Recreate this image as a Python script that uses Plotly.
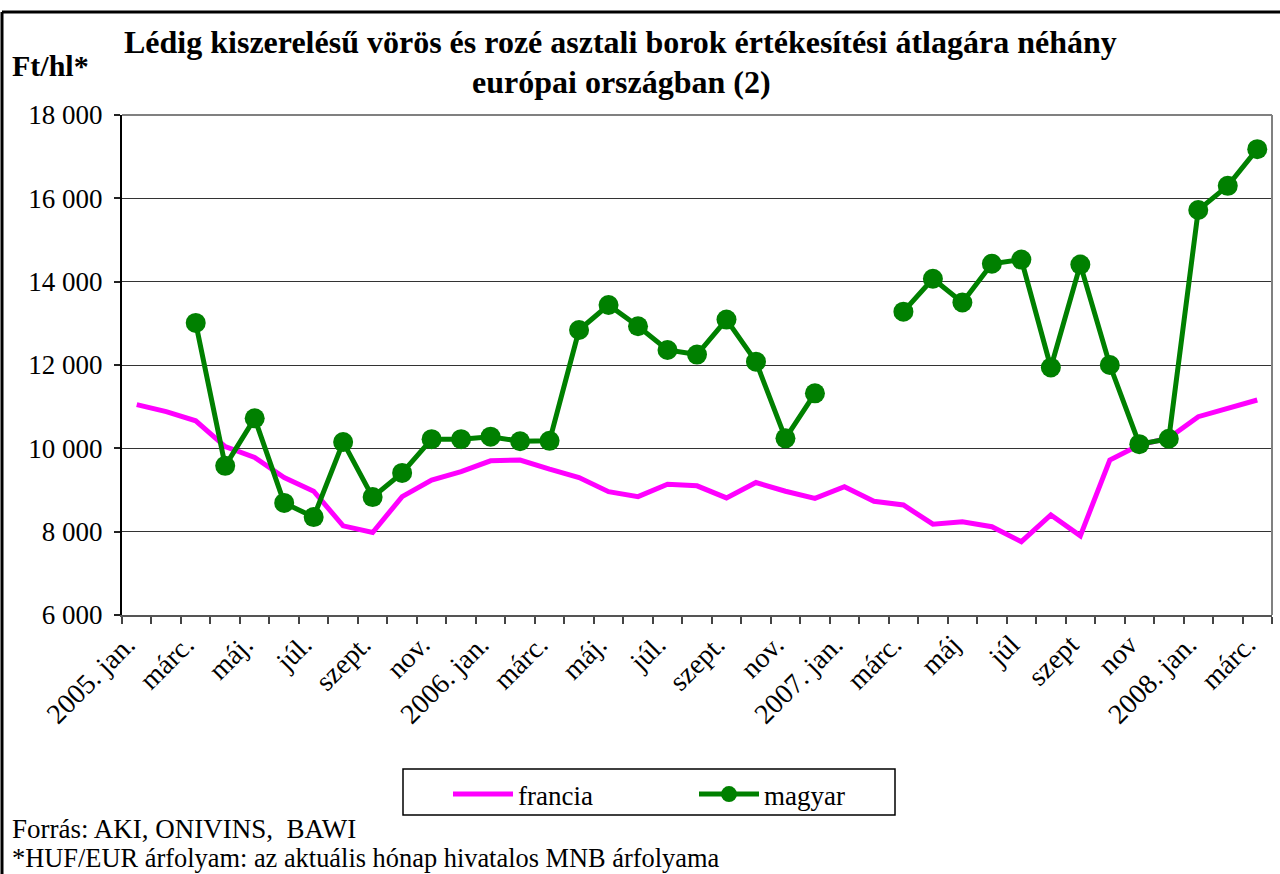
import plotly.graph_objects as go

# ---- data ----
months = [
    "2005-01", "2005-02", "2005-03", "2005-04", "2005-05", "2005-06",
    "2005-07", "2005-08", "2005-09", "2005-10", "2005-11", "2005-12",
    "2006-01", "2006-02", "2006-03", "2006-04", "2006-05", "2006-06",
    "2006-07", "2006-08", "2006-09", "2006-10", "2006-11", "2006-12",
    "2007-01", "2007-02", "2007-03", "2007-04", "2007-05", "2007-06",
    "2007-07", "2007-08", "2007-09", "2007-10", "2007-11", "2007-12",
    "2008-01", "2008-02", "2008-03",
]
tick_labels = [
    "2005. jan.", "", "márc.", "", "máj.", "", "júl.", "", "szept.", "", "nov.", "",
    "2006. jan.", "", "márc.", "", "máj.", "", "júl.", "", "szept.", "", "nov.", "",
    "2007. jan.", "", "márc.", "", "máj", "", "júl", "", "szept", "", "nov", "",
    "2008. jan.", "", "márc.",
]
francia = [
    11050, 10880, 10660, 10040, 9780, 9300, 8970, 8140, 7980, 8840, 9240, 9440,
    9700, 9720, 9500, 9300, 8960, 8840, 9140, 9100, 8810, 9180, 8970, 8800,
    9080, 8730, 8640, 8180, 8240, 8120, 7760, 8400, 7900, 9720, 10080, 10250,
    10760, 10960, 11160,
]
magyar = [
    None, None, 13010, 9580, 10720, 8690, 8350, 10150, 8830, 9410, 10220, 10220,
    10280, 10170, 10180, 12840, 13440, 12930, 12360, 12250, 13090, 12080, 10240, 11320,
    None, None, 13280, 14070, 13500, 14430, 14530, 11940, 14410, 12000, 10100, 10230,
    15720, 16300, 17180,
]

FONT = "Liberation Serif, Times New Roman, serif"
W, H = 1280, 874
L, R, T, B = 122, 8, 115, 259
PW, PH = W - L - R, H - T - B


def px(x):
    return (x - L) / PW


def py(y):
    return (H - B - y) / PH


fig = go.Figure()
fig.add_trace(go.Scatter(
    x=months, y=francia, name="francia", mode="lines",
    line=dict(color="#FF00FF", width=5),
))
fig.add_trace(go.Scatter(
    x=months, y=magyar, name="magyar", mode="lines+markers",
    line=dict(color="#008000", width=5),
    marker=dict(color="#008000", size=20),
    connectgaps=False,
))

fig.update_layout(
    width=W, height=H,
    margin=dict(l=L, r=R, t=T, b=B, pad=0),
    paper_bgcolor="white", plot_bgcolor="white",
    separators=", ",
    font=dict(family=FONT, size=27, color="black"),
    showlegend=True,
    legend=dict(
        orientation="h", x=px(448), y=py(770), xanchor="left", yanchor="top",
        bgcolor="rgba(0,0,0,0)", borderwidth=0,
        font=dict(family=FONT, size=27),
        itemwidth=60, entrywidth=171, entrywidthmode="pixels",
        traceorder="normal",
    ),
    xaxis=dict(
        type="category", categoryorder="array", categoryarray=months,
        tickmode="array", tickvals=months, ticktext=tick_labels,
        tickson="boundaries", ticks="outside", ticklen=7, tickwidth=1.5,
        tickcolor="#444", tickangle=-45, ticklabelshift=-10,
        showline=True, linecolor="#555", linewidth=2,
        showgrid=False, zeroline=False,
        tickfont=dict(family=FONT, size=28),
        range=[-0.5, len(months) - 0.5],
    ),
    yaxis=dict(
        range=[6000, 18000], dtick=2000, tick0=6000, tickformat=",d",
        ticks="outside", ticklen=6, tickwidth=1.5, tickcolor="#222",
        showline=True, linecolor="black", linewidth=2,
        showgrid=True, gridcolor="#333", gridwidth=1.3,
        zeroline=False, ticklabelstandoff=6,
        tickfont=dict(family=FONT, size=27),
    ),
    shapes=[
        # plot area top and right border (gray)
        dict(type="line", xref="paper", yref="paper", x0=0, x1=1, y0=1, y1=1,
             line=dict(color="#808080", width=2)),
        dict(type="line", xref="paper", yref="paper", x0=1, x1=1, y0=0, y1=1,
             line=dict(color="#808080", width=2)),
        # outer chart frame
        dict(type="line", xref="paper", yref="paper", x0=px(2), x1=px(1282),
             y0=py(12), y1=py(12), line=dict(color="black", width=3)),
        dict(type="line", xref="paper", yref="paper", x0=px(2), x1=px(2),
             y0=py(12), y1=py(880), line=dict(color="black", width=3)),
        # legend box
        dict(type="rect", xref="paper", yref="paper", x0=px(403), x1=px(895),
             y0=py(769), y1=py(815), line=dict(color="black", width=1.5),
             fillcolor="rgba(0,0,0,0)"),
    ],
    annotations=[
        dict(text="<b>Lédig kiszerelésű vörös és rozé asztali borok értékesítési átlagára néhány</b>",
             xref="paper", yref="paper", x=px(620), y=py(42), xanchor="center", yanchor="middle",
             showarrow=False, font=dict(family=FONT, size=32)),
        dict(text="<b>európai országban (2)</b>",
             xref="paper", yref="paper", x=px(621), y=py(82), xanchor="center", yanchor="middle",
             showarrow=False, font=dict(family=FONT, size=32)),
        dict(text="<b>Ft/hl*</b>", xref="paper", yref="paper", x=px(10), y=py(66),
             xanchor="left", yanchor="middle", showarrow=False,
             font=dict(family=FONT, size=30)),
        dict(text="Forrás: AKI, ONIVINS,\u00a0 BAWI", xref="paper", yref="paper",
             x=px(10), y=py(829), xanchor="left", yanchor="middle", showarrow=False,
             font=dict(family=FONT, size=27)),
        dict(text="*HUF/EUR árfolyam: az aktuális hónap hivatalos MNB árfolyama",
             xref="paper", yref="paper", x=px(10), y=py(858), xanchor="left",
             yanchor="middle", showarrow=False, font=dict(family=FONT, size=26.4)),
    ],
)

fig.write_html(
    "out.html",
    config={"displayModeBar": False},
    post_script="document.body.style.margin='0';document.body.style.overflow='hidden';",
)
